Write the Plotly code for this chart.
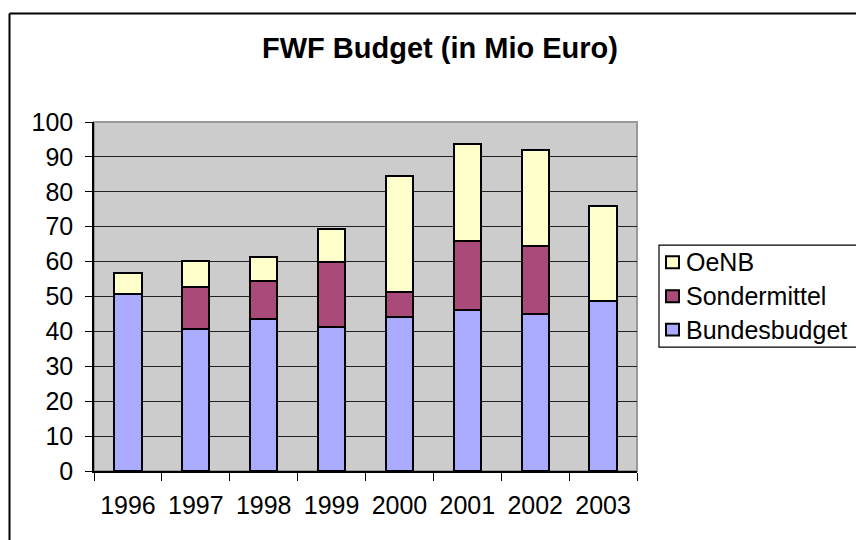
import plotly.graph_objects as go

years = ["1996", "1997", "1998", "1999", "2000", "2001", "2002", "2003"]
bundesbudget = [50.7, 40.7, 43.5, 41.2, 44.1, 46.2, 45.0, 48.8]
sondermittel = [0.0, 12.0, 10.9, 18.8, 7.1, 19.6, 19.5, 0.0]
oenb = [6.0, 7.4, 6.8, 9.4, 33.4, 28.0, 27.6, 27.0]
y_ticks = list(range(0, 101, 10))

W, H = 856, 540
L, R, T, B = 94, 637, 121.7, 471

def px_x(px):  # page px -> paper x
    return (px - L) / (R - L)

def px_y(py):  # page px -> paper y
    return (B - py) / (B - T)

FONT = "Liberation Sans, Arial, sans-serif"

fig = go.Figure()
series = [("Bundesbudget", bundesbudget, "#AAAAFF"),
          ("Sondermittel", sondermittel, "#AA4A78"),
          ("OeNB", oenb, "#FFFFCC")]
for name, vals, col in series:
    fig.add_trace(go.Bar(x=years, y=vals, name=name,
                         marker=dict(color=col, line=dict(color="black", width=2)),
                         width=0.4, showlegend=False))

fig.update_layout(
    width=W, height=H,
    margin=dict(l=L, r=W - R, t=T, b=H - B),
    barmode="stack",
    paper_bgcolor="white",
    plot_bgcolor="#CCCCCC",
    font=dict(family=FONT, size=25, color="black"),
    title=dict(text="<b>FWF Budget (in Mio Euro)</b>", x=440 / W, xanchor="center",
               y=1 - 47.5 / H, yanchor="middle",
               font=dict(family=FONT, size=29, color="black")),
)
fig.update_xaxes(type="category", showline=True, linecolor="black", linewidth=1.5,
                 ticks="outside", ticklen=8, tickcolor="black", tickson="boundaries",
                 showgrid=False, ticklabelstandoff=11)
fig.update_yaxes(range=[0, 100], tickvals=y_ticks, showline=True, linecolor="black",
                 linewidth=1.5, ticks="outside", ticklen=7, tickcolor="black",
                 showgrid=True, gridcolor="#222222", gridwidth=1, zeroline=False,
                 ticklabelstandoff=7)

# plot-area frame (grey, top and right)
fig.add_shape(type="rect", xref="paper", yref="paper", x0=0, x1=1, y0=0, y1=1,
              line=dict(color="#999999", width=2), layer="below")
# outer chart border (top and left visible)
fig.add_shape(type="line", xref="paper", yref="paper", x0=px_x(9.5), x1=px_x(870),
              y0=px_y(13), y1=px_y(13), line=dict(color="black", width=2))
fig.add_shape(type="line", xref="paper", yref="paper", x0=px_x(9.5), x1=px_x(9.5),
              y0=px_y(13), y1=px_y(560), line=dict(color="black", width=2))

# legend box
fig.add_shape(type="rect", xref="paper", yref="paper", x0=px_x(659), x1=px_x(880),
              y0=px_y(347), y1=px_y(245), line=dict(color="black", width=1.2),
              fillcolor="white")
legend_y = [329.5, 296, 262]
for (name, vals, col), ly in zip(series, legend_y):
    fig.add_shape(type="rect", xref="paper", yref="paper",
                  x0=px_x(666), x1=px_x(679), y0=px_y(ly + 6), y1=px_y(ly - 6),
                  line=dict(color="black", width=2), fillcolor=col)
    fig.add_annotation(xref="paper", yref="paper", x=px_x(684), y=px_y(ly),
                       text=name, showarrow=False, xanchor="left", yanchor="middle",
                       font=dict(family=FONT, size=25, color="black"))

fig.write_html("out.html",
               config={"displayModeBar": False},
               post_script="document.body.style.margin='0';"
                           "document.body.style.overflow='hidden';")
